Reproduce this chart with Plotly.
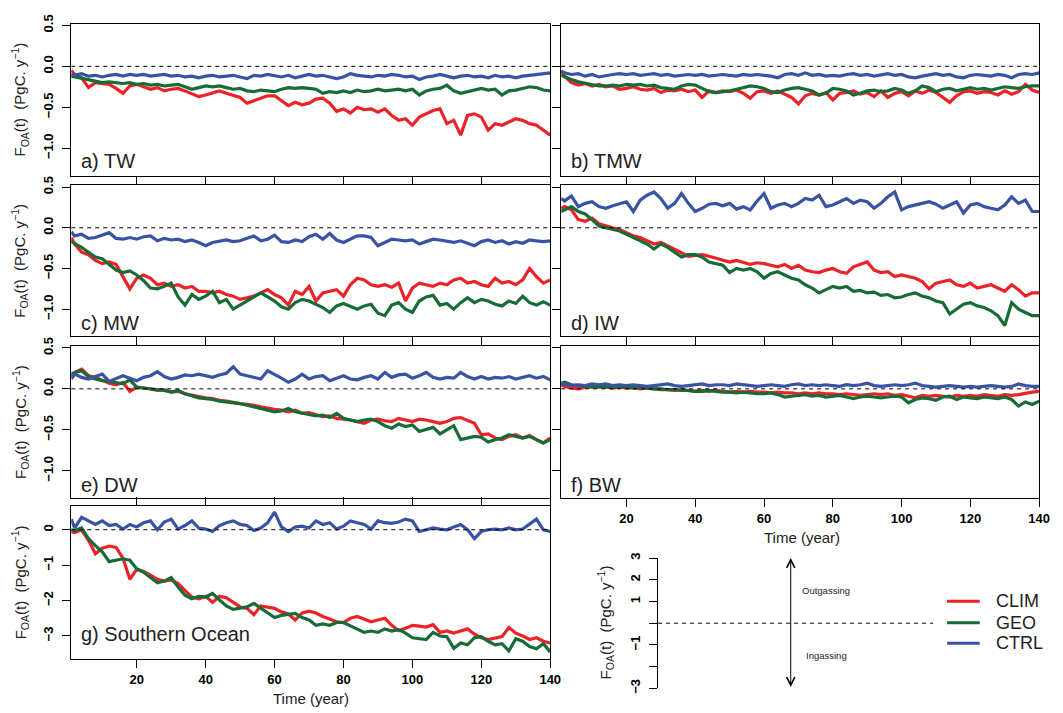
import plotly.graph_objects as go

W, H = 1063, 713

# ---------------------------------------------------------------- data
years = [1] + list(range(2, 141, 2))
x_ticks = [20, 40, 60, 80, 100, 120, 140]

series_names = ["CLIM", "GEO", "CTRL"]
series_colors = ["#EC2227", "#176B36", "#3953A4"]

clim_tw = [
    -0.05, -0.10, -0.14, -0.26, -0.20, -0.21, -0.22, -0.27, -0.33, -0.24,
    -0.22, -0.25, -0.28, -0.26, -0.30, -0.28, -0.27, -0.30, -0.34, -0.37,
    -0.35, -0.32, -0.30, -0.33, -0.36, -0.38, -0.45, -0.42, -0.38, -0.36,
    -0.36, -0.42, -0.48, -0.44, -0.47, -0.45, -0.40, -0.39, -0.45, -0.55,
    -0.52, -0.57, -0.50, -0.53, -0.52, -0.56, -0.52, -0.60, -0.66, -0.64,
    -0.72, -0.62, -0.58, -0.54, -0.52, -0.70, -0.66, -0.84, -0.60, -0.58,
    -0.62, -0.78, -0.70, -0.72, -0.68, -0.64, -0.66, -0.70, -0.72, -0.78,
    -0.84]
geo_tw = [
    -0.12, -0.13, -0.14, -0.17, -0.19, -0.20, -0.19, -0.20, -0.21, -0.20,
    -0.22, -0.21, -0.23, -0.22, -0.24, -0.23, -0.22, -0.25, -0.28, -0.26,
    -0.24, -0.25, -0.24, -0.26, -0.28, -0.27, -0.30, -0.31, -0.29, -0.30,
    -0.31, -0.28, -0.26, -0.27, -0.26, -0.27, -0.28, -0.33, -0.31, -0.32,
    -0.30, -0.32, -0.29, -0.31, -0.30, -0.28, -0.30, -0.29, -0.28, -0.30,
    -0.28, -0.35, -0.30, -0.28, -0.27, -0.23, -0.30, -0.33, -0.31, -0.28,
    -0.27, -0.29, -0.28, -0.35, -0.30, -0.29, -0.27, -0.25, -0.26, -0.29,
    -0.30]
ctrl_tw = [
    -0.10, -0.11, -0.09, -0.12, -0.11, -0.13, -0.11, -0.10, -0.12, -0.10,
    -0.11, -0.10, -0.12, -0.11, -0.10, -0.12, -0.11, -0.13, -0.12, -0.14,
    -0.12, -0.11, -0.13, -0.12, -0.11, -0.13, -0.15, -0.11, -0.12, -0.10,
    -0.12, -0.13, -0.11, -0.14, -0.12, -0.10, -0.12, -0.11, -0.13, -0.15,
    -0.13, -0.09, -0.11, -0.12, -0.13, -0.11, -0.12, -0.10, -0.11, -0.13,
    -0.12, -0.16, -0.13, -0.12, -0.10, -0.12, -0.14, -0.12, -0.11, -0.13,
    -0.12, -0.14, -0.11, -0.13, -0.12, -0.14, -0.12, -0.11, -0.10, -0.09,
    -0.08]

clim_tmw = [
    -0.05, -0.12, -0.20, -0.23, -0.21, -0.24, -0.22, -0.25, -0.24, -0.28,
    -0.27, -0.25, -0.28, -0.29, -0.27, -0.32, -0.29, -0.30, -0.28, -0.31,
    -0.29, -0.38, -0.30, -0.32, -0.30, -0.31, -0.29, -0.33, -0.39, -0.31,
    -0.30, -0.33, -0.30, -0.34, -0.38, -0.46, -0.36, -0.33, -0.35, -0.32,
    -0.41, -0.33, -0.32, -0.30, -0.34, -0.32, -0.37, -0.30, -0.38, -0.33,
    -0.31, -0.36, -0.30, -0.33, -0.29, -0.32, -0.38, -0.44, -0.36, -0.31,
    -0.30, -0.33, -0.31, -0.32, -0.35, -0.30, -0.34, -0.31, -0.22, -0.29,
    -0.32]
geo_tmw = [
    -0.11, -0.13, -0.16, -0.19, -0.21, -0.23, -0.24, -0.24, -0.23, -0.24,
    -0.22, -0.23, -0.22, -0.24, -0.23, -0.26, -0.27, -0.28, -0.24, -0.22,
    -0.23, -0.27, -0.31, -0.32, -0.31, -0.30, -0.28, -0.26, -0.24, -0.25,
    -0.27, -0.31, -0.32, -0.29, -0.27, -0.26, -0.28, -0.30, -0.35, -0.33,
    -0.27, -0.28, -0.30, -0.35, -0.33, -0.30, -0.29, -0.31, -0.30, -0.27,
    -0.29, -0.33, -0.30, -0.24, -0.26, -0.31, -0.28, -0.27, -0.30, -0.28,
    -0.26, -0.28, -0.27, -0.29, -0.27, -0.25, -0.26, -0.27, -0.25, -0.24,
    -0.24]
ctrl_tmw = [
    -0.06, -0.08, -0.10, -0.09, -0.12, -0.10, -0.13, -0.11, -0.10, -0.09,
    -0.10, -0.09, -0.11, -0.10, -0.09, -0.11, -0.10, -0.12, -0.11, -0.10,
    -0.11, -0.10, -0.12, -0.11, -0.10, -0.11, -0.12, -0.10, -0.11, -0.10,
    -0.11, -0.12, -0.14, -0.10, -0.09, -0.11, -0.08, -0.11, -0.10, -0.12,
    -0.11, -0.12, -0.10, -0.09, -0.11, -0.10, -0.12, -0.10, -0.09, -0.11,
    -0.10, -0.13, -0.14, -0.12, -0.10, -0.09, -0.11, -0.10, -0.13, -0.14,
    -0.11, -0.10, -0.11, -0.12, -0.10, -0.11, -0.14, -0.10, -0.09, -0.10,
    -0.08]

clim_mw = [
    -0.12, -0.20, -0.30, -0.33, -0.40, -0.44, -0.42, -0.45, -0.60, -0.75,
    -0.62, -0.58, -0.62, -0.70, -0.68, -0.72, -0.70, -0.74, -0.72, -0.78,
    -0.78, -0.80, -0.78, -0.82, -0.84, -0.88, -0.86, -0.84, -0.80, -0.76,
    -0.82, -0.86, -0.95, -0.78, -0.82, -0.72, -0.90, -0.80, -0.78, -0.76,
    -0.84, -0.70, -0.62, -0.64, -0.70, -0.72, -0.70, -0.73, -0.68, -0.90,
    -0.74, -0.68, -0.70, -0.72, -0.68, -0.70, -0.64, -0.62, -0.68, -0.66,
    -0.70, -0.72, -0.62, -0.68, -0.66, -0.70, -0.64, -0.50, -0.60, -0.68,
    -0.64]
geo_mw = [
    -0.17, -0.19, -0.24, -0.30, -0.36, -0.38, -0.45, -0.52, -0.55, -0.53,
    -0.58, -0.65, -0.74, -0.75, -0.72, -0.68, -0.85, -0.95, -0.82, -0.88,
    -0.84, -0.78, -0.92, -0.88, -1.00, -0.95, -0.90, -0.86, -0.80, -0.85,
    -0.90, -0.97, -1.00, -0.92, -0.88, -0.90, -0.94, -0.98, -1.04, -0.96,
    -0.93, -0.97, -1.00, -0.96, -0.94, -1.05, -1.08, -0.95, -0.92, -1.00,
    -1.04, -0.90, -0.85, -0.83, -0.95, -0.93, -1.00, -0.92, -0.86, -0.92,
    -0.88, -0.90, -0.94, -0.96, -0.90, -0.93, -0.84, -0.92, -0.95, -0.91,
    -0.95]
ctrl_mw = [
    -0.05, -0.10, -0.08, -0.13, -0.12, -0.09, -0.06, -0.13, -0.14, -0.12,
    -0.14, -0.11, -0.10, -0.16, -0.13, -0.15, -0.14, -0.17, -0.15, -0.18,
    -0.22, -0.18, -0.16, -0.15, -0.17, -0.16, -0.13, -0.10, -0.16, -0.14,
    -0.09, -0.17, -0.18, -0.15, -0.17, -0.11, -0.08, -0.14, -0.07, -0.15,
    -0.18, -0.14, -0.10, -0.10, -0.12, -0.22, -0.18, -0.14, -0.15, -0.16,
    -0.15, -0.20, -0.17, -0.14, -0.15, -0.17, -0.18, -0.16, -0.19, -0.22,
    -0.17, -0.15, -0.18, -0.16, -0.20, -0.17, -0.19, -0.15, -0.16, -0.17,
    -0.16]

clim_iw = [
    0.24, 0.26, 0.22, 0.10, 0.08, 0.12, 0.05, 0.02, 0.00, -0.02,
    -0.06, -0.10, -0.12, -0.16, -0.20, -0.18, -0.22, -0.26, -0.30, -0.35,
    -0.34, -0.33, -0.35, -0.37, -0.40, -0.42, -0.40, -0.43, -0.45, -0.43,
    -0.44, -0.46, -0.48, -0.45, -0.50, -0.46, -0.52, -0.54, -0.55, -0.52,
    -0.50, -0.54, -0.56, -0.48, -0.45, -0.42, -0.52, -0.55, -0.54, -0.60,
    -0.58, -0.60, -0.62, -0.66, -0.75, -0.68, -0.66, -0.64, -0.70, -0.72,
    -0.68, -0.74, -0.72, -0.70, -0.74, -0.78, -0.70, -0.76, -0.84, -0.80,
    -0.80]
geo_iw = [
    0.20, 0.22, 0.26, 0.20, 0.17, 0.10, 0.02, 0.00, -0.02, -0.04,
    -0.08, -0.12, -0.16, -0.20, -0.26, -0.20, -0.24, -0.30, -0.36, -0.33,
    -0.33, -0.36, -0.42, -0.44, -0.46, -0.55, -0.50, -0.52, -0.50, -0.54,
    -0.62, -0.56, -0.54, -0.58, -0.62, -0.64, -0.70, -0.74, -0.80, -0.76,
    -0.72, -0.74, -0.72, -0.78, -0.77, -0.80, -0.79, -0.83, -0.82, -0.86,
    -0.85, -0.82, -0.80, -0.84, -0.86, -0.90, -0.92, -1.06, -1.00, -0.94,
    -0.92, -0.96, -0.98, -1.02, -1.08, -1.20, -0.92, -1.00, -1.04, -1.08,
    -1.08]
ctrl_iw = [
    0.36, 0.33, 0.39, 0.26, 0.30, 0.32, 0.26, 0.24, 0.27, 0.29,
    0.32, 0.20, 0.34, 0.40, 0.44, 0.36, 0.24, 0.30, 0.42, 0.30,
    0.20, 0.24, 0.29, 0.30, 0.27, 0.30, 0.23, 0.26, 0.22, 0.33,
    0.42, 0.24, 0.28, 0.30, 0.26, 0.30, 0.36, 0.34, 0.40, 0.26,
    0.28, 0.32, 0.36, 0.30, 0.34, 0.32, 0.24, 0.30, 0.38, 0.44,
    0.22, 0.26, 0.28, 0.30, 0.32, 0.29, 0.24, 0.28, 0.32, 0.18,
    0.28, 0.30, 0.26, 0.24, 0.22, 0.28, 0.38, 0.30, 0.34, 0.20,
    0.20]

clim_dw = [
    0.15, 0.20, 0.24, 0.16, 0.14, 0.10, 0.07, 0.05, 0.08, -0.03,
    0.02, 0.01, 0.00, -0.02, -0.01, -0.04, -0.03, -0.06, -0.08, -0.10,
    -0.11, -0.12, -0.14, -0.15, -0.17, -0.18, -0.19, -0.20, -0.22, -0.24,
    -0.25, -0.26, -0.28, -0.26, -0.30, -0.29, -0.32, -0.34, -0.33, -0.36,
    -0.37, -0.38, -0.40, -0.42, -0.38, -0.37, -0.39, -0.40, -0.36, -0.38,
    -0.40, -0.37, -0.38, -0.40, -0.42, -0.40, -0.36, -0.35, -0.38, -0.42,
    -0.56, -0.55, -0.60, -0.62, -0.58, -0.56, -0.60, -0.57, -0.62, -0.66,
    -0.60]
geo_dw = [
    0.18, 0.20, 0.22, 0.15, 0.12, 0.10, 0.09, 0.07, 0.06, 0.11,
    0.02, 0.01, 0.00, -0.01, -0.02, -0.04, -0.02, -0.06, -0.09, -0.11,
    -0.12, -0.13, -0.15, -0.16, -0.17, -0.18, -0.20, -0.22, -0.24, -0.26,
    -0.28, -0.27, -0.24, -0.28, -0.30, -0.31, -0.33, -0.32, -0.35, -0.30,
    -0.36, -0.38, -0.40, -0.38, -0.37, -0.40, -0.45, -0.48, -0.43, -0.46,
    -0.44, -0.52, -0.49, -0.47, -0.55, -0.50, -0.45, -0.62, -0.60, -0.58,
    -0.59, -0.65, -0.62, -0.60, -0.56, -0.58, -0.60, -0.58, -0.62, -0.66,
    -0.62]
ctrl_dw = [
    0.12, 0.18, 0.14, 0.12, 0.15, 0.18, 0.09, 0.12, 0.16, 0.13,
    0.10, 0.14, 0.16, 0.21, 0.15, 0.12, 0.14, 0.17, 0.16, 0.18,
    0.16, 0.14, 0.17, 0.19, 0.27, 0.18, 0.16, 0.14, 0.12, 0.22,
    0.18, 0.13, 0.08, 0.12, 0.18, 0.12, 0.15, 0.16, 0.10, 0.13,
    0.16, 0.12, 0.11, 0.14, 0.16, 0.12, 0.20, 0.14, 0.17, 0.18,
    0.13, 0.16, 0.20, 0.14, 0.12, 0.14, 0.13, 0.20, 0.15, 0.12,
    0.15, 0.12, 0.14, 0.13, 0.15, 0.12, 0.14, 0.16, 0.13, 0.15,
    0.11]

clim_bw = [
    0.05, 0.03, 0.01, 0.00, 0.02, 0.03, 0.02, 0.03, 0.01, 0.02,
    0.01, 0.02, 0.00, 0.01, 0.00, -0.01, -0.01, -0.02, -0.01, -0.02,
    -0.03, -0.02, -0.03, -0.02, -0.03, -0.04, -0.03, -0.04, -0.03, -0.04,
    -0.04, -0.05, -0.04, -0.05, -0.05, -0.06, -0.05, -0.06, -0.05, -0.06,
    -0.06, -0.07, -0.06, -0.07, -0.08, -0.07, -0.06, -0.07, -0.06, -0.08,
    -0.07, -0.09, -0.11, -0.08, -0.09, -0.08, -0.09, -0.10, -0.08, -0.09,
    -0.08, -0.09, -0.07, -0.08, -0.09, -0.07, -0.08, -0.07, -0.05, -0.04,
    -0.03]
geo_bw = [
    0.07, 0.08, 0.05, 0.04, 0.03, 0.02, 0.03, 0.02, 0.02, 0.03,
    0.02, 0.01, 0.02, 0.01, 0.00, 0.00, -0.01, -0.01, -0.02, -0.02,
    -0.03, -0.03, -0.02, -0.03, -0.04, -0.04, -0.05, -0.04, -0.05, -0.06,
    -0.06, -0.05, -0.07, -0.10, -0.09, -0.08, -0.07, -0.09, -0.08, -0.10,
    -0.09, -0.08, -0.10, -0.12, -0.10, -0.09, -0.10, -0.11, -0.10, -0.09,
    -0.10, -0.17, -0.13, -0.11, -0.12, -0.14, -0.10, -0.09, -0.13, -0.10,
    -0.11, -0.12, -0.10, -0.11, -0.12, -0.10, -0.13, -0.21, -0.16, -0.19,
    -0.15]
ctrl_bw = [
    0.05, 0.06, 0.04, 0.05, 0.04, 0.06, 0.05, 0.06, 0.04, 0.05,
    0.04, 0.05, 0.04, 0.03, 0.04, 0.05, 0.06, 0.04, 0.03, 0.04,
    0.05, 0.06, 0.04, 0.05, 0.05, 0.04, 0.06, 0.05, 0.04, 0.03,
    0.04, 0.05, 0.04, 0.03, 0.05, 0.06, 0.04, 0.05, 0.04, 0.05,
    0.04, 0.03, 0.05, 0.04, 0.05, 0.07, 0.04, 0.03, 0.04, 0.05,
    0.04, 0.05, 0.07, 0.04, 0.03, 0.02, 0.03, 0.04, 0.03, 0.02,
    0.03, 0.02, 0.03, 0.04, 0.03, 0.02, 0.03, 0.06, 0.04, 0.03,
    0.03]

clim_so = [
    -0.05, -0.08, 0.00, -0.30, -0.68, -0.52, -0.46, -0.50, -0.80, -1.40,
    -1.12, -1.18, -1.28, -1.40, -1.45, -1.42, -1.52, -1.70, -1.90, -1.95,
    -1.88, -2.05, -1.88, -1.92, -2.05, -2.18, -2.22, -2.40, -2.15, -2.18,
    -2.22, -2.32, -2.38, -2.55, -2.35, -2.30, -2.35, -2.45, -2.52, -2.60,
    -2.62, -2.50, -2.45, -2.52, -2.60, -2.55, -2.50, -2.70, -2.85, -2.78,
    -2.70, -2.72, -2.75, -2.68, -2.90, -2.86, -2.92, -2.86, -2.80, -2.95,
    -3.05, -3.10, -3.05, -3.02, -2.76, -2.92, -3.00, -3.10, -3.05, -3.15,
    -3.20]
geo_so = [
    0.00, -0.02, 0.05, -0.25, -0.45, -0.62, -0.90, -0.85, -0.82, -0.86,
    -1.10, -1.20, -1.35, -1.50, -1.45, -1.35, -1.62, -1.85, -1.95, -1.88,
    -1.90, -1.80, -1.98, -2.15, -2.25, -2.22, -2.18, -2.08, -2.22, -2.35,
    -2.48, -2.42, -2.40, -2.36, -2.48, -2.55, -2.70, -2.66, -2.70, -2.62,
    -2.62, -2.72, -2.82, -2.90, -2.86, -2.90, -2.80, -2.86, -2.82, -2.92,
    -3.05, -3.08, -3.10, -2.90, -3.00, -3.02, -3.35, -3.20, -3.25, -3.05,
    -3.02, -3.15, -3.25, -3.22, -3.42, -3.08, -3.15, -3.30, -3.36, -3.22,
    -3.45]
ctrl_so = [
    0.30, 0.05, 0.35, 0.25, 0.15, 0.25, 0.12, 0.15, 0.02, 0.15,
    0.08, 0.20, 0.25, 0.00, 0.22, 0.30, 0.02, 0.12, 0.25, 0.05,
    0.02, -0.05, 0.12, 0.20, 0.25, 0.15, 0.12, -0.02, 0.05, 0.20,
    0.50, 0.08, -0.05, 0.08, 0.10, 0.05, 0.25, 0.15, 0.20, 0.02,
    0.10, 0.25, 0.20, 0.15, 0.02, 0.25, 0.20, 0.18, 0.22, 0.30,
    0.25, -0.05, 0.00, 0.05, 0.02, 0.00, 0.08, 0.15, 0.00, -0.25,
    -0.05, 0.00, 0.02, 0.00, 0.05, 0.00, 0.02, 0.15, 0.30, 0.00,
    -0.05]

small_ticks = [0.5, 0.0, -0.5, -1.0]
small_tick_text = ["0.5", "0.0", "\u22120.5", "\u22121.0"]
so_ticks = [0, -1, -2, -3]
so_tick_text = ["0", "\u22121", "\u22122", "\u22123"]
key_ticks = [3, 2, 1, -1, -3]
key_tick_text = ["3", "2", "1", "\u22121", "\u22123"]
key_minor_ticks = [0, -2]

panels = [
    ("a) TW", (clim_tw, geo_tw, ctrl_tw), 0, 0),
    ("b) TMW", (clim_tmw, geo_tmw, ctrl_tmw), 1, 0),
    ("c) MW", (clim_mw, geo_mw, ctrl_mw), 0, 1),
    ("d) IW", (clim_iw, geo_iw, ctrl_iw), 1, 1),
    ("e) DW", (clim_dw, geo_dw, ctrl_dw), 0, 2),
    ("f) BW", (clim_bw, geo_bw, ctrl_bw), 1, 2),
    ("g) Southern Ocean", (clim_so, geo_so, ctrl_so), 0, 3),
]

for _, group, _, _ in panels:
    for s in group:
        assert len(s) == len(years), len(s)

# ---------------------------------------------------------------- layout helpers
col_px = [(72, 556), (567, 1050)]
row_px = [(15, 170), (180, 334), (344, 499), (507, 663)]


def fx(p):
    return p / W


def fy(p):
    return 1 - p / H


FONT = "Liberation Sans, Arial, Helvetica, sans-serif"
tick_font = dict(family=FONT, size=13, color="black", weight="bold")
ytitle = "F<sub>OA</sub>(t)&nbsp; (PgC. y<sup>\u22121</sup>)"

fig = go.Figure()
layout = dict(
    width=W, height=H, autosize=False,
    margin=dict(l=0, r=0, t=0, b=0),
    paper_bgcolor="white", plot_bgcolor="white",
    showlegend=False,
    font=dict(family=FONT, color="black"),
)
annotations = []
shapes = []

for k, (label, group, col, row) in enumerate(panels, start=1):
    xs = "" if k == 1 else str(k)
    x0, x1 = col_px[col]
    y0, y1 = row_px[row]
    for name, color, vals in zip(series_names, series_colors, group):
        fig.add_trace(go.Scatter(
            x=years, y=vals, mode="lines", name=name,
            line=dict(color=color, width=3.2),
            xaxis="x" + xs, yaxis="y" + xs, showlegend=False,
        ))
    southern = (row == 3)
    yr = [-3.65, 0.67] if southern else [-1.335, 0.52]
    layout["xaxis" + xs] = dict(
        domain=[fx(x0), fx(x1)], range=[1, 140], anchor="y" + xs,
        side="top" if row > 0 else "bottom",
        tickvals=x_ticks, ticks="outside" if row > 0 else "",
        ticklen=8, tickwidth=1, tickcolor="black",
        showticklabels=False, showgrid=False, zeroline=False,
        showline=True, mirror=True, linecolor="black", linewidth=1,
    )
    layout["yaxis" + xs] = dict(
        domain=[fy(y1), fy(y0)], range=yr, anchor="x" + xs,
        tickvals=so_ticks if southern else small_ticks,
        ticktext=so_tick_text if southern else small_tick_text,
        showticklabels=(col == 0), tickangle=-90, tickfont=tick_font,
        ticklabelstandoff=4,
        ticks="outside", ticklen=8, tickwidth=1, tickcolor="black",
        showgrid=False, zeroline=False,
        showline=True, mirror=True, linecolor="black", linewidth=1,
    )
    # zero reference line
    shapes.append(dict(
        type="line", xref="x" + xs + " domain", yref="y" + xs,
        x0=0, x1=1, y0=0, y1=0,
        line=dict(color="black", width=1, dash="4px,4px"),
    ))
    # panel label
    label_y = {0: 155, 1: 320, 2: 486, 3: 638}[row]
    annotations.append(dict(
        x=fx(x0 + 8), y=fy(label_y), xref="paper", yref="paper",
        text=label, showarrow=False, xanchor="left", yanchor="middle",
        font=dict(family=FONT, size=20, color="#222222"),
    ))
    if col == 0:
        annotations.append(dict(
            x=fx(20), y=fy((y0 + y1) / 2), xref="paper", yref="paper",
            text=ytitle, showarrow=False, textangle=-90,
            xanchor="center", yanchor="middle",
            font=dict(family=FONT, size=15, color="#222222"),
        ))

# labelled time axes under panels f and g
for base, extra in (("6", "9"), ("7", "10")):
    fig.add_trace(go.Scatter(x=[], y=[], xaxis="x" + extra, yaxis="y" + base,
                             showlegend=False))
    layout["xaxis" + extra] = dict(
        overlaying="x" + base, anchor="y" + base, side="bottom",
        range=[1, 140], tickvals=x_ticks, ticks="outside", ticklen=8,
        tickwidth=1, tickcolor="black", tickfont=tick_font,
        showticklabels=True, showgrid=False, zeroline=False, showline=False,
    )
for cx, cy in ((810, 539), (314, 703)):
    annotations.append(dict(
        x=fx(cx), y=fy(cy), xref="paper", yref="paper", text="Time (year)",
        showarrow=False, xanchor="center", yanchor="middle",
        font=dict(family=FONT, size=15, color="#222222", weight="normal"),
    ))

# key panel: sign convention and series legend
fig.add_trace(go.Scatter(x=[], y=[], xaxis="x8", yaxis="y8", showlegend=False))
layout["xaxis8"] = dict(domain=[fx(665), fx(1050)], range=[0, 1],
                        anchor="y8", visible=False)
layout["yaxis8"] = dict(
    domain=[fy(693), fy(560)], range=[-3, 3], anchor="x8",
    tickvals=key_ticks, ticktext=key_tick_text, tickangle=-90,
    tickfont=tick_font, ticklabelstandoff=4,
    ticks="outside", ticklen=8, tickwidth=1, tickcolor="black",
    minor=dict(tickvals=key_minor_ticks, ticks="outside", ticklen=8,
               tickwidth=1, tickcolor="black", showgrid=False),
    showgrid=False, zeroline=False, showline=True, linecolor="black",
    linewidth=1,
)
annotations.append(dict(
    x=fx(612), y=fy(626), xref="paper", yref="paper", text=ytitle,
    showarrow=False, textangle=-90, xanchor="center", yanchor="middle",
    font=dict(family=FONT, size=15, color="#222222"),
))
shapes.append(dict(
    type="line", xref="x8", yref="y8", x0=0, x1=0.722, y0=0, y1=0,
    line=dict(color="black", width=1, dash="4px,4px"),
))
arrow_x = (799 - 665) / (1050 - 665)
annotations.append(dict(
    x=arrow_x, y=3, ax=arrow_x, ay=-3, xref="x8", yref="y8",
    axref="x8", ayref="y8", text="", showarrow=True,
    arrowside="end+start", arrowhead=5, startarrowhead=5,
    arrowsize=1.6, startarrowsize=1.6, arrowwidth=1, arrowcolor="black",
))
note_x = (835 - 665) / (1050 - 665)
for txt, val in (("Outgassing", 1.52), ("Ingassing", -1.49)):
    annotations.append(dict(
        x=note_x, y=val, xref="x8", yref="y8", text=txt, showarrow=False,
        xanchor="center", yanchor="middle",
        font=dict(family=FONT, size=9.5, color="#222222"),
    ))
for name, color, ly in zip(series_names, series_colors, (604, 626, 647)):
    shapes.append(dict(
        type="line", xref="paper", yref="paper",
        x0=fx(957), x1=fx(990), y0=fy(ly), y1=fy(ly),
        line=dict(color=color, width=3),
    ))
    annotations.append(dict(
        x=fx(1004), y=fy(ly), xref="paper", yref="paper", text=name,
        showarrow=False, xanchor="left", yanchor="middle",
        font=dict(family=FONT, size=18, color="#222222"),
    ))

layout["annotations"] = annotations
layout["shapes"] = shapes
fig.update_layout(**layout)
fig.write_html("out.html")
